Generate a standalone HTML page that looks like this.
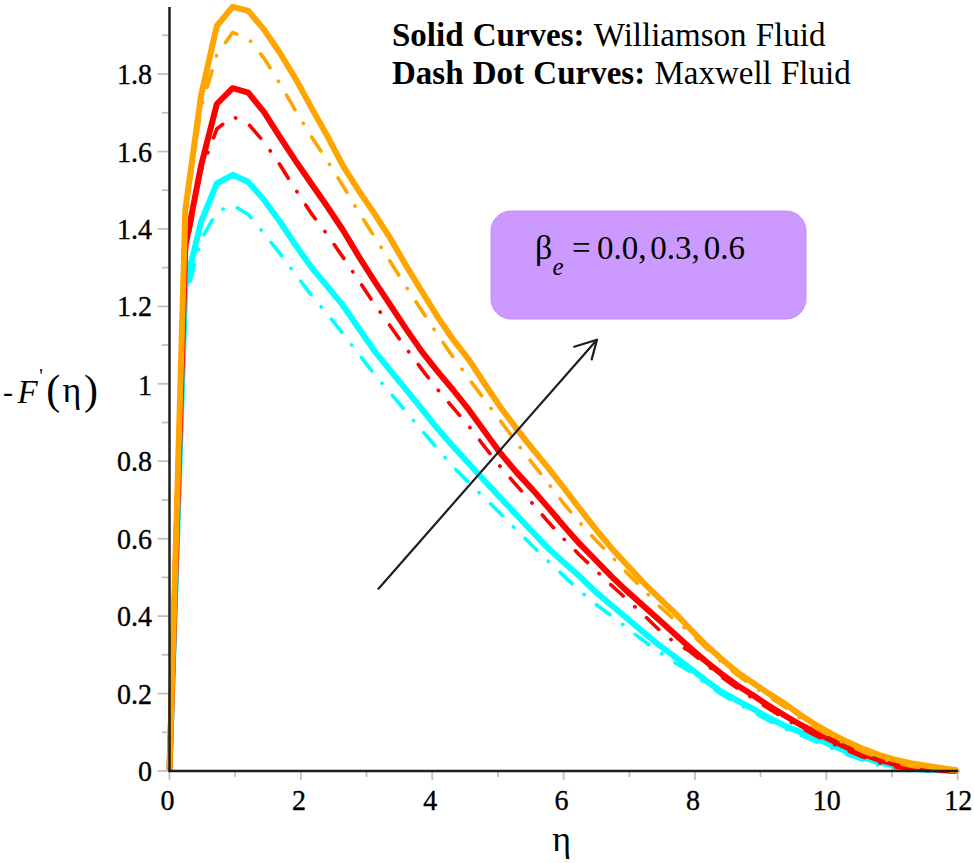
<!DOCTYPE html>
<html><head><meta charset="utf-8"><style>
html,body{margin:0;padding:0;background:#fff;}
body{width:974px;height:863px;overflow:hidden;position:relative;}
svg{position:absolute;left:0;top:0;}
text{font-family:"Liberation Serif",serif;}
</style></head><body>
<svg width="974" height="863" viewBox="0 0 974 863">
<rect x="0" y="0" width="974" height="863" fill="#fff"/>
<g fill="none" stroke-linejoin="round" stroke-linecap="butt">
<path d="M169.5,771.0 L185.3,300.0 L201.0,240.0 L216.8,212.0 L232.6,204.9 L248.3,214.5 L264.1,233.6 L279.8,253.4 L295.6,274.5 L311.4,295.3 L327.1,313.7 L342.9,333.7 L358.7,353.9 L374.4,374.4 L390.2,392.9 L405.9,411.5 L421.7,430.2 L437.5,448.6 L453.2,467.0 L469.0,482.6 L484.8,498.1 L500.5,513.6 L516.3,529.7 L532.1,545.5 L547.8,560.8 L563.6,575.6 L579.3,590.4 L595.1,603.8 L610.9,615.4 L626.6,627.6 L642.4,639.9 L658.2,651.3 L673.9,662.1 L689.7,671.4 L705.4,683.1 L721.2,694.3 L737.0,703.4 L752.7,711.8 L768.5,720.6 L784.3,728.4 L800.0,735.0 L815.8,741.5 L831.6,748.2 L847.3,754.7 L863.1,760.4 L878.8,765.3 L894.6,768.8 L910.4,770.8 L926.1,771.0 L941.9,771.0 L957.7,771.0" stroke="#00ffff" stroke-width="3.6" stroke-dasharray="16.9 15.75 0.4 15.75" stroke-dashoffset="-2.8" stroke-linecap="round"/>
<path d="M169.5,771.0 L185.3,287.0 L201.0,222.0 L216.8,183.5 L232.6,174.8 L248.3,182.0 L264.1,199.9 L279.8,221.5 L295.6,245.1 L311.4,267.3 L327.1,286.1 L342.9,305.2 L358.7,328.3 L374.4,350.8 L390.2,370.3 L405.9,389.4 L421.7,408.9 L437.5,428.6 L453.2,446.5 L469.0,463.7 L484.8,481.0 L500.5,497.9 L516.3,514.6 L532.1,531.5 L547.8,547.9 L563.6,562.2 L579.3,576.0 L595.1,591.4 L610.9,604.8 L626.6,618.0 L642.4,631.4 L658.2,644.4 L673.9,656.2 L689.7,667.8 L705.4,680.2 L721.2,691.6 L737.0,700.4 L752.7,708.6 L768.5,717.7 L784.3,725.5 L800.0,731.9 L815.8,738.4 L831.6,745.3 L847.3,751.7 L863.1,757.4 L878.8,762.3 L894.6,765.8 L910.4,768.4 L926.1,769.8 L941.9,770.5 L957.7,771.0" stroke="#00ffff" stroke-width="6"/>
<path d="M169.5,771.0 L185.3,255.0 L201.0,171.0 L216.8,129.0 L232.6,116.5 L248.3,123.9 L264.1,142.1 L279.8,164.5 L295.6,189.7 L311.4,213.6 L327.1,234.4 L342.9,257.1 L358.7,280.5 L374.4,304.0 L390.2,326.0 L405.9,348.0 L421.7,369.1 L437.5,389.4 L453.2,407.9 L469.0,426.4 L484.8,447.0 L500.5,466.9 L516.3,485.1 L532.1,503.1 L547.8,521.4 L563.6,538.7 L579.3,554.8 L595.1,569.7 L610.9,584.7 L626.6,599.1 L642.4,613.7 L658.2,629.0 L673.9,641.9 L689.7,651.3 L705.4,663.9 L721.2,676.6 L737.0,688.1 L752.7,698.2 L768.5,708.5 L784.3,718.3 L800.0,727.4 L815.8,735.6 L831.6,743.3 L847.3,750.5 L863.1,757.0 L878.8,762.6 L894.6,766.9 L910.4,769.7 L926.1,770.9 L941.9,771.0 L957.7,771.0" stroke="#ff0000" stroke-width="3.6" stroke-dasharray="16.9 15.75 0.4 15.75" stroke-dashoffset="-2.8" stroke-linecap="round"/>
<path d="M169.5,771.0 L185.3,247.0 L201.0,166.0 L216.8,104.0 L232.6,88.2 L248.3,92.7 L264.1,112.2 L279.8,136.9 L295.6,160.8 L311.4,183.7 L327.1,206.3 L342.9,230.0 L358.7,256.3 L374.4,281.0 L390.2,304.8 L405.9,328.6 L421.7,351.4 L437.5,371.4 L453.2,390.0 L469.0,409.9 L484.8,431.7 L500.5,453.2 L516.3,472.1 L532.1,489.1 L547.8,507.1 L563.6,525.8 L579.3,543.4 L595.1,559.5 L610.9,575.8 L626.6,590.8 L642.4,605.0 L658.2,619.1 L673.9,633.2 L689.7,647.4 L705.4,661.0 L721.2,673.7 L737.0,685.2 L752.7,695.0 L768.5,705.6 L784.3,715.3 L800.0,724.5 L815.8,732.5 L831.6,740.3 L847.3,747.5 L863.1,754.0 L878.8,759.7 L894.6,763.9 L910.4,766.7 L926.1,768.6 L941.9,769.9 L957.7,771.0" stroke="#ff0000" stroke-width="6"/>
<path d="M169.5,771.0 L185.3,215.0 L201.0,108.0 L216.8,55.0 L232.6,32.5 L248.3,38.4 L264.1,58.3 L279.8,83.5 L295.6,110.7 L311.4,136.6 L327.1,160.6 L342.9,185.6 L358.7,212.1 L374.4,236.7 L390.2,261.5 L405.9,286.4 L421.7,310.6 L437.5,334.4 L453.2,357.2 L469.0,378.9 L484.8,400.1 L500.5,420.9 L516.3,442.4 L532.1,462.8 L547.8,482.9 L563.6,503.5 L579.3,522.0 L595.1,539.4 L610.9,555.7 L626.6,572.4 L642.4,588.4 L658.2,605.1 L673.9,619.2 L689.7,632.1 L705.4,647.3 L721.2,661.8 L737.0,674.7 L752.7,685.9 L768.5,696.3 L784.3,706.6 L800.0,717.7 L815.8,727.9 L831.6,736.8 L847.3,744.8 L863.1,751.9 L878.8,757.8 L894.6,762.6 L910.4,766.1 L926.1,768.8 L941.9,770.8 L957.7,771.0" stroke="#ffa500" stroke-width="3.6" stroke-dasharray="16.9 15.75 0.4 15.75" stroke-dashoffset="-2.8" stroke-linecap="round"/>
<path d="M169.5,771.0 L185.3,210.0 L201.0,96.0 L216.8,26.0 L232.6,6.8 L248.3,10.9 L264.1,29.6 L279.8,52.8 L295.6,78.8 L311.4,107.6 L327.1,135.6 L342.9,165.7 L358.7,190.6 L374.4,213.6 L390.2,238.2 L405.9,265.3 L421.7,291.2 L437.5,316.7 L453.2,339.7 L469.0,359.8 L484.8,384.0 L500.5,407.3 L516.3,428.4 L532.1,448.3 L547.8,467.3 L563.6,487.5 L579.3,508.1 L595.1,528.3 L610.9,547.4 L626.6,564.6 L642.4,581.6 L658.2,597.2 L673.9,611.9 L689.7,628.5 L705.4,644.5 L721.2,658.8 L737.0,671.9 L752.7,682.8 L768.5,693.4 L784.3,703.4 L800.0,714.8 L815.8,724.9 L831.6,733.8 L847.3,741.8 L863.1,748.9 L878.8,754.8 L894.6,759.6 L910.4,763.1 L926.1,765.7 L941.9,768.1 L957.7,770.5" stroke="#ffa500" stroke-width="6"/>
</g>
<g stroke="#c0c0c0" stroke-width="1.8">
<line x1="157.5" y1="771.0" x2="169.5" y2="771.0" /><line x1="162" y1="732.3" x2="169.5" y2="732.3" /><line x1="157.5" y1="693.6" x2="169.5" y2="693.6" /><line x1="162" y1="654.8" x2="169.5" y2="654.8" /><line x1="157.5" y1="616.1" x2="169.5" y2="616.1" /><line x1="162" y1="577.4" x2="169.5" y2="577.4" /><line x1="157.5" y1="538.7" x2="169.5" y2="538.7" /><line x1="162" y1="500.0" x2="169.5" y2="500.0" /><line x1="157.5" y1="461.2" x2="169.5" y2="461.2" /><line x1="162" y1="422.5" x2="169.5" y2="422.5" /><line x1="157.5" y1="383.8" x2="169.5" y2="383.8" /><line x1="162" y1="345.1" x2="169.5" y2="345.1" /><line x1="157.5" y1="306.4" x2="169.5" y2="306.4" /><line x1="162" y1="267.6" x2="169.5" y2="267.6" /><line x1="157.5" y1="228.9" x2="169.5" y2="228.9" /><line x1="162" y1="190.2" x2="169.5" y2="190.2" /><line x1="157.5" y1="151.5" x2="169.5" y2="151.5" /><line x1="162" y1="112.8" x2="169.5" y2="112.8" /><line x1="157.5" y1="74.0" x2="169.5" y2="74.0" /><line x1="162" y1="35.3" x2="169.5" y2="35.3" /><line x1="169.5" y1="771.0" x2="169.5" y2="780" /><line x1="235.2" y1="771.0" x2="235.2" y2="777" /><line x1="300.9" y1="771.0" x2="300.9" y2="780" /><line x1="366.5" y1="771.0" x2="366.5" y2="777" /><line x1="432.2" y1="771.0" x2="432.2" y2="780" /><line x1="497.9" y1="771.0" x2="497.9" y2="777" /><line x1="563.6" y1="771.0" x2="563.6" y2="780" /><line x1="629.3" y1="771.0" x2="629.3" y2="777" /><line x1="694.9" y1="771.0" x2="694.9" y2="780" /><line x1="760.6" y1="771.0" x2="760.6" y2="777" /><line x1="826.3" y1="771.0" x2="826.3" y2="780" /><line x1="892.0" y1="771.0" x2="892.0" y2="777" /><line x1="957.7" y1="771.0" x2="957.7" y2="780" />
</g>
<line x1="169.5" y1="7" x2="169.5" y2="772.0" stroke="#1e1e1e" stroke-width="2.5"/>
<line x1="168.5" y1="771.0" x2="958" y2="771.0" stroke="#1e1e1e" stroke-width="2.5"/>
<g font-size="29.5" fill="#000" stroke="#000" stroke-width="0.35">
<text transform="translate(152,781.0) scale(0.95,1)" text-anchor="end">0</text><text transform="translate(152,703.6) scale(0.95,1)" text-anchor="end">0.2</text><text transform="translate(152,626.1) scale(0.95,1)" text-anchor="end">0.4</text><text transform="translate(152,548.7) scale(0.95,1)" text-anchor="end">0.6</text><text transform="translate(152,471.2) scale(0.95,1)" text-anchor="end">0.8</text><text transform="translate(152,395.3) scale(0.95,1)" text-anchor="end">1</text><text transform="translate(152,316.4) scale(0.95,1)" text-anchor="end">1.2</text><text transform="translate(152,238.9) scale(0.95,1)" text-anchor="end">1.4</text><text transform="translate(152,161.5) scale(0.95,1)" text-anchor="end">1.6</text><text transform="translate(152,84.0) scale(0.95,1)" text-anchor="end">1.8</text>
<text transform="translate(167.5,810.2) scale(0.95,1)" text-anchor="middle">0</text><text transform="translate(298.9,810.2) scale(0.95,1)" text-anchor="middle">2</text><text transform="translate(430.2,810.2) scale(0.95,1)" text-anchor="middle">4</text><text transform="translate(561.6,810.2) scale(0.95,1)" text-anchor="middle">6</text><text transform="translate(692.9,810.2) scale(0.95,1)" text-anchor="middle">8</text><text transform="translate(826.8,810.2) scale(0.95,1)" text-anchor="middle">10</text><text transform="translate(958.2,810.2) scale(0.95,1)" text-anchor="middle">12</text>
</g>
<g fill="#000">
<text x="3" y="402" font-size="30">-</text>
<text x="17.5" y="403" font-size="33" font-style="italic">F</text>
<text x="39.3" y="382.5" font-size="20">'</text>
<text x="46.2" y="403.9" font-size="42">(</text>
<text x="62.4" y="401.8" font-size="36">&#951;</text>
<text x="84" y="403.9" font-size="42">)</text>
<text x="552.2" y="851.4" font-size="36">&#951;</text>
</g>
<g font-size="33" fill="#000" word-spacing="1">
<text x="392" y="46"><tspan font-weight="bold">Solid Curves: </tspan>Williamson Fluid</text>
<text x="392" y="84"><tspan font-weight="bold">Dash Dot Curves: </tspan>Maxwell Fluid</text>
</g>
<rect x="491" y="211" width="315" height="108" rx="20" ry="20" fill="#cc99ff" stroke="#c48cff" stroke-width="1"/>
<g fill="#000">
<text x="535" y="259" font-size="34">&#946;</text>
<text x="552.5" y="274.5" font-size="25" font-style="italic">e</text>
<text x="572" y="259" font-size="33">=</text>
<text x="596.9" y="259.3" font-size="33">0.0,</text>
<text x="650.3" y="259.3" font-size="33">0.3,</text>
<text x="703.7" y="259.3" font-size="33">0.6</text>
</g>
<g stroke="#1e1e1e" stroke-width="2.2" stroke-linecap="round" fill="none">
<line x1="378.5" y1="588.7" x2="597.0" y2="339.8"/>
<polyline points="574.2,346.8 597.0,339.8 591.7,359.4" stroke-linejoin="round"/>
</g>
</svg>
</body></html>
